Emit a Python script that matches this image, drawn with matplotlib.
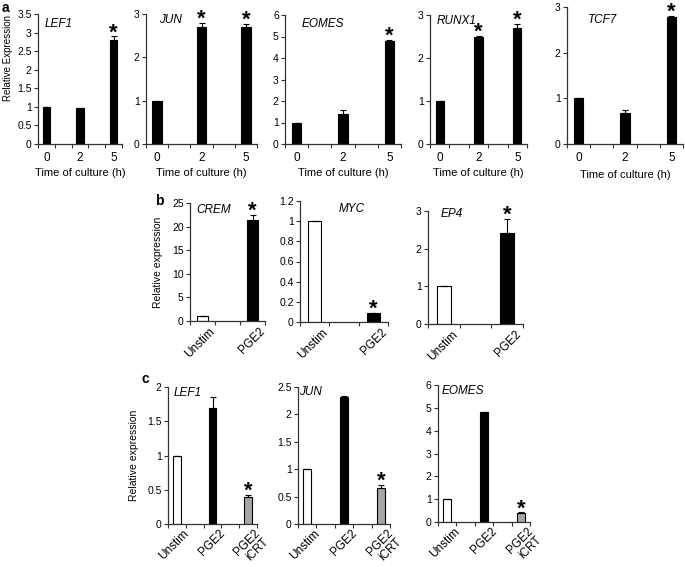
import matplotlib
matplotlib.use("Agg")
import matplotlib.pyplot as plt
import numpy as np

plt.rcParams['font.family'] = ['Liberation Sans', 'DejaVu Sans']

# ---- panel a: time course (h) ----
time_labels = ["0", "2", "5"]
a_genes = ["LEF1", "JUN", "EOMES", "RUNX1", "TCF7"]
a_values = [
    [1.0, 0.97, 2.80],
    [1.0, 2.70, 2.70],
    [1.0, 1.40, 4.80],
    [1.0, 2.50, 2.70],
    [1.0, 0.68, 2.78],
]
a_errors = [
    [0.0, 0.0, 0.10],
    [0.0, 0.10, 0.08],
    [0.0, 0.20, 0.05],
    [0.0, 0.02, 0.10],
    [0.01, 0.07, 0.02],
]
a_stars = [
    [False, False, True],
    [False, True, True],
    [False, False, True],
    [False, True, True],
    [False, False, True],
]
a_ylims = [3.5, 3, 6, 3, 3]
a_ysteps = [0.5, 1, 1, 1, 1]

# ---- panel b: Unstim vs PGE2 ----
b_labels = ["Unstim", "PGE2"]
b_genes = ["CREM", "MYC", "EP4"]
b_values = [
    [1.0, 21.5],
    [1.0, 0.09],
    [1.0, 2.42],
]
b_errors = [
    [0.0, 1.0],
    [0.0, 0.0],
    [0.0, 0.38],
]
b_stars = [
    [False, True],
    [False, True],
    [False, True],
]
b_ylims = [25, 1.2, 3]
b_ysteps = [5, 0.2, 1]

# ---- panel c: Unstim, PGE2, PGE2 + iCRT ----
c_labels = ["Unstim", "PGE2", "PGE2\niCRT"]
c_genes = ["LEF1", "JUN", "EOMES"]
c_values = [
    [1.0, 1.70, 0.40],
    [1.0, 2.32, 0.66],
    [1.0, 4.80, 0.40],
]
c_errors = [
    [0.0, 0.15, 0.03],
    [0.0, 0.01, 0.06],
    [0.0, 0.0, 0.03],
]
c_stars = [
    [False, False, True],
    [False, False, True],
    [False, False, True],
]
c_ylims = [2, 2.5, 6]
c_ysteps = [0.5, 0.5, 1]

W, H = 685, 567
fig = plt.figure(figsize=(W / 100, H / 100), dpi=100)


def add_ax(left, right, top, bottom):
    # pixel box -> figure fraction
    return fig.add_axes([left / W, 1 - bottom / H, (right - left) / W, (bottom - top) / H])


def style_ax(ax, ymax, ystep):
    for s in ["top", "right"]:
        ax.spines[s].set_visible(False)
    for s in ["left", "bottom"]:
        ax.spines[s].set_color("#333333")
        ax.spines[s].set_linewidth(0.9)
    ax.set_ylim(0, ymax)
    ax.set_yticks(np.arange(0, ymax + ystep / 2, ystep))
    ax.yaxis.set_major_formatter(matplotlib.ticker.FuncFormatter(lambda v, p: f"{v:g}"))
    ax.tick_params(axis="y", direction="out", length=3, width=0.8, labelsize=7.5, pad=1.5, color="#333333")


def draw_bars(ax, slots, values, errors, stars, colors, nslots, width):
    ax.set_xlim(-0.5, nslots - 0.5)
    lower = [0] * len(values)
    ax.bar(slots, values, width=width, color=colors, edgecolor="black", linewidth=0.8, zorder=2)
    ax.errorbar(slots, values, yerr=[lower, errors], fmt="none", ecolor="black",
                elinewidth=0.8, capsize=2, capthick=0.8, zorder=3)
    for x, v, e, s in zip(slots, values, errors, stars):
        if s:
            ax.annotate("*", (x, v + e), xytext=(0, -1.5), textcoords="offset points",
                        ha="center", va="baseline", fontsize=16, fontweight="bold")
    # category boundary ticks, labels centred on bars
    ax.set_xticks(np.arange(-0.5, nslots, 1.0))
    ax.set_xticklabels([])
    ax.tick_params(axis="x", direction="out", length=3, width=0.8, color="#333333")


# panel a
a_boxes = [(38, 122, 14, 144), (146, 257, 14, 144), (285, 401, 15, 144),
           (430, 527, 15, 144), (567, 683, 7, 144)]
a_title_pos = [(0.08, 0.97), (0.22, 1.0), (0.33, 0.98), (0.27, 1.0), (0.31, 0.95)]
for i, box in enumerate(a_boxes):
    ax = add_ax(*box)
    style_ax(ax, a_ylims[i], a_ysteps[i])
    slots = [0, 2, 4]
    draw_bars(ax, slots, a_values[i], a_errors[i], a_stars[i], ["black"] * 3, 5, 0.42)
    for x, lab in zip(slots, time_labels):
        ax.text(x, -0.06, lab, transform=ax.get_xaxis_transform(), ha="center", va="top", fontsize=8.5)
    ax.text(0.5, -0.225, "Time of culture (h)", transform=ax.transAxes, ha="center", va="center", fontsize=8)
    ax.text(*a_title_pos[i], a_genes[i], transform=ax.transAxes, ha="left" if i == 0 else "center",
            va="top", fontsize=8.5, style="italic")
    if i == 0:
        ax.set_ylabel("Relative Expression", fontsize=7)
        ax.yaxis.set_label_coords(-0.30, 0.66)

# panel b
b_boxes = [(190, 265, 203, 321), (300, 388, 201, 322), (428, 523, 211, 324)]
b_title_pos = [(0.32, 0.99), (0.59, 0.98), (0.25, 1.03)]
for i, box in enumerate(b_boxes):
    ax = add_ax(*box)
    style_ax(ax, b_ylims[i], b_ysteps[i])
    slots = [0, 2]
    draw_bars(ax, slots, b_values[i], b_errors[i], b_stars[i], ["white", "black"], 3, 0.45)
    for x, lab in zip(slots, b_labels):
        ax.text(x + 0.25, -0.04, lab, transform=ax.get_xaxis_transform(), ha="right", va="top",
                rotation=45, rotation_mode="anchor", fontsize=8.5)
    ax.text(*b_title_pos[i], b_genes[i], transform=ax.transAxes, ha="center", va="top",
            fontsize=8.5, style="italic")
    if i == 0:
        ax.set_ylabel("Relative expression", fontsize=7.5)
        ax.yaxis.set_label_coords(-0.36, 0.50)

# panel c
c_boxes = [(168, 257, 387, 524), (298, 390, 387, 524), (438, 530, 385, 522)]
c_title_pos = [(0.22, 1.0), (0.14, 1.01), (0.27, 1.0)]
for i, box in enumerate(c_boxes):
    ax = add_ax(*box)
    style_ax(ax, c_ylims[i], c_ysteps[i])
    slots = [0, 2, 4]
    draw_bars(ax, slots, c_values[i], c_errors[i], c_stars[i], ["white", "black", "#a6a6a6"], 5, 0.42)
    for x, lab in zip(slots, c_labels):
        ax.text(x + 0.35, -0.025, lab, transform=ax.get_xaxis_transform(), ha="right", va="top",
                rotation=45, rotation_mode="anchor", fontsize=8.5, linespacing=0.95)
    ax.text(*c_title_pos[i], c_genes[i], transform=ax.transAxes, ha="center", va="top",
            fontsize=8.5, style="italic")
    if i == 0:
        ax.set_ylabel("Relative expression", fontsize=7.5)
        ax.yaxis.set_label_coords(-0.33, 0.50)

# panel letters
fig.text(2 / W, 1 - 1 / H, "a", fontsize=10, fontweight="bold", va="top", ha="left")
fig.text(155 / W, 1 - 194 / H, "b", fontsize=10, fontweight="bold", va="top", ha="left")
fig.text(141 / W, 1 - 372 / H, "c", fontsize=10, fontweight="bold", va="top", ha="left")

fig.savefig("out.png", dpi=100, facecolor="white")
